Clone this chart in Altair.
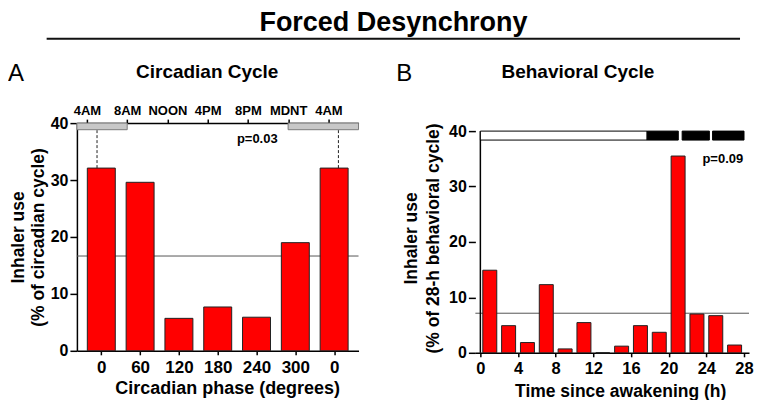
import altair as alt
import pandas as pd

FONT = "Liberation Sans"

main_title = "Forced Desynchrony"

# ---- Panel A : circadian cycle ----
a_letter = "A"
a_title = "Circadian Cycle"
phases = [0, 60, 120, 180, 240, 300, 360]
phase_labels = ["0", "60", "120", "180", "240", "300", "0"]
circ_values = [32.1, 29.6, 5.7, 7.7, 5.9, 19.0, 32.1]
circ_mean = 16.65
clock_hours = [4, 8, 12, 16, 20, 24, 28]
clock_labels = ["4AM", "8AM", "NOON", "4PM", "8PM", "MDNT", "4AM"]
sleep_start = [3, 24]
sleep_end = [8, 31]
a_p_text = "p=0.03"
a_p_pos = [239, 37.2]

# ---- Panel B : behavioral cycle ----
b_letter = "B"
b_title = "Behavioral Cycle"
hours_mid = [1, 3, 5, 7, 9, 11, 13, 15, 17, 19, 21, 23, 25, 27]
behav_values = [14.9, 4.9, 1.85, 12.3, 0.7, 5.45, 0.0, 1.2, 4.9, 3.7, 35.5, 7.0, 6.7, 1.4]
behav_mean = 7.14
hour_ticks = [0, 4, 8, 12, 16, 20, 24, 28]
seg_start = [0, 17.71, 21.43, 24.66]
seg_end = [17.71, 21.02, 24.32, 28]
seg_fill = ["white", "black", "black", "black"]
b_p_text = "p=0.09"
b_p_pos = [25.75, 35.0]

AW, AH = 282, 228
BW, BH = 274, 230
B_TOP = 40 * BH / 222.0


def lbl_expr(vals, labels):
    v = "[" + ",".join(str(x) for x in vals) + "]"
    l = "[" + ",".join("'" + s + "'" for s in labels) + "]"
    return f"{l}[indexof({v}, datum.value)]"


def txt(s, x, y, size, weight="bold", align="center"):
    return alt.Chart(pd.DataFrame({"t": [s]})).mark_text(
        font=FONT, fontSize=size, fontWeight=weight, align=align,
        baseline="alphabetic", color="black"
    ).encode(text="t:N", x=alt.value(x), y=alt.value(y))


# ----- Panel A layers -----
xa_scale = alt.Scale(domain=[-30, 390], nice=False, zero=False)
xclock_scale = alt.Scale(domain=[3, 31], nice=False, zero=False)
ya_scale = alt.Scale(domain=[0, 40], nice=False)
ya_axis = alt.Axis(values=[0, 10, 20, 30, 40], labelFontSize=16, tickSize=7, labelPadding=2,
                   title=["Inhaler use", "(% of circadian cycle)"], titleFontSize=17.5,
                   titleLineHeight=20, titlePadding=3)

df_a = pd.DataFrame({"phase": phases, "value": circ_values})
df_a["top"] = 38.84
df_dash = df_a[df_a["phase"].isin([0, 360])]
df_sleep = pd.DataFrame({"start": sleep_start, "end": sleep_end, "top": 40, "bottom": 38.84})
df_amean = pd.DataFrame({"m": [circ_mean]})
df_ap = pd.DataFrame({"x": [a_p_pos[0]], "y": [a_p_pos[1]], "t": [a_p_text]})

header_text = txt(main_title, 317, -92.5, 27)
header_rule = alt.Chart(pd.DataFrame({"t": [0]})).mark_rule(color="#111", strokeWidth=2).encode(
    x=alt.value(-30.3), x2=alt.value(664), y=alt.value(-84.5))
letter_a = txt(a_letter, -69, -42, 24, weight="normal", align="left")
title_a = txt(a_title, 130.5, -45, 19)

mean_a = alt.Chart(df_amean).mark_rule(color="#555", strokeWidth=1).encode(
    y=alt.Y("m:Q", scale=ya_scale, axis=ya_axis))

bars_a = alt.Chart(df_a).mark_bar(size=28, orient="vertical", color="#ff0000",
                                  stroke="#222", strokeWidth=1).encode(
    x=alt.X("phase:Q", scale=xa_scale,
            axis=alt.Axis(orient="bottom", values=phases, labelExpr=lbl_expr(phases, phase_labels),
                          tickSize=4, labelFontSize=17, labelPadding=5, labelFlush=False,
                          labelOverlap=False,
                          title="Circadian phase (degrees)", titleFontSize=18, titlePadding=4,
                          titleX=150.5)),
    y=alt.Y("value:Q", scale=ya_scale, axis=ya_axis))

dash_a = alt.Chart(df_dash).mark_rule(color="#222", strokeWidth=1, strokeDash=[3, 2]).encode(
    x=alt.X("phase:Q", scale=xa_scale, axis=None),
    y=alt.Y("value:Q", scale=ya_scale, axis=ya_axis), y2="top:Q")

sleep_a = alt.Chart(df_sleep).mark_rect(fill="#c8c8c8", stroke="#7a7a7a", strokeWidth=1).encode(
    x=alt.X("start:Q", scale=xclock_scale,
            axis=alt.Axis(orient="top", values=clock_hours, labelExpr=lbl_expr(clock_hours, clock_labels),
                          tickSize=4, labelFontSize=13, labelPadding=2, labelFlush=False,
                          labelOverlap=False, title=None)),
    x2="end:Q",
    y=alt.Y("top:Q", scale=ya_scale, axis=ya_axis), y2="bottom:Q")

p_a = alt.Chart(df_ap).mark_text(font=FONT, fontSize=13, fontWeight="bold", baseline="middle",
                                 color="black").encode(
    x=alt.X("x:Q", scale=xa_scale, axis=None),
    y=alt.Y("y:Q", scale=ya_scale, axis=ya_axis), text="t:N")

panel_a = alt.layer(header_text, header_rule, letter_a, title_a, mean_a, bars_a, dash_a,
                    sleep_a, p_a).resolve_scale(x="independent").properties(width=AW, height=AH)

# ----- Panel B layers -----
xb_scale = alt.Scale(domain=[0, 28], nice=False, zero=False)
yb_scale = alt.Scale(domain=[0, B_TOP], nice=False)
xb_axis = alt.Axis(values=hour_ticks, tickSize=4, labelFontSize=16.5, labelPadding=4,
                   labelFlush=False, labelOverlap=False,
                   title="Time since awakening (h)", titleFontSize=17.5, titlePadding=5,
                   titleX=145)
yb_axis = alt.Axis(values=[0, 10, 20, 30, 40], labelFontSize=16, tickSize=7, labelPadding=2,
                   domain=False,
                   title=["Inhaler use", "(% of 28-h behavioral cycle)"], titleFontSize=17.5,
                   titleLineHeight=22, titlePadding=6)

df_b = pd.DataFrame({"hour": hours_mid, "value": behav_values})
df_bmean = pd.DataFrame({"m": [behav_mean]})
df_seg = pd.DataFrame({"start": seg_start, "end": seg_end, "fill": seg_fill, "top": 40, "bottom": 38.38})
df_bp = pd.DataFrame({"x": [b_p_pos[0]], "y": [b_p_pos[1]], "t": [b_p_text]})
df_dom = pd.DataFrame({"x": [0], "y0": [0], "y1": [40]})

letter_b = txt(b_letter, -79.3, -42, 24, weight="normal", align="left")
title_b = txt(b_title, 102.7, -45, 19)

mean_b = alt.Chart(df_bmean).mark_rule(color="#555", strokeWidth=1).encode(
    y=alt.Y("m:Q", scale=yb_scale, axis=yb_axis))

bars_b = alt.Chart(df_b).mark_bar(size=14, orient="vertical", color="#ff0000",
                                  stroke="#222", strokeWidth=1).encode(
    x=alt.X("hour:Q", scale=xb_scale, axis=xb_axis),
    y=alt.Y("value:Q", scale=yb_scale, axis=yb_axis))

dom_b = alt.Chart(df_dom).mark_rule(color="black", strokeWidth=1.5).encode(
    x=alt.X("x:Q", scale=xb_scale, axis=xb_axis),
    y=alt.Y("y0:Q", scale=yb_scale, axis=yb_axis), y2="y1:Q")

seg_b = alt.Chart(df_seg).mark_rect(stroke="black", strokeWidth=1).encode(
    x=alt.X("start:Q", scale=xb_scale, axis=xb_axis), x2="end:Q",
    y=alt.Y("top:Q", scale=yb_scale, axis=yb_axis), y2="bottom:Q",
    fill=alt.Fill("fill:N", scale=None))

p_b = alt.Chart(df_bp).mark_text(font=FONT, fontSize=13, fontWeight="bold", baseline="middle",
                                 color="black").encode(
    x=alt.X("x:Q", scale=xb_scale, axis=xb_axis),
    y=alt.Y("y:Q", scale=yb_scale, axis=yb_axis), text="t:N")

panel_b = alt.layer(letter_b, title_b, mean_b, bars_b, dom_b, seg_b, p_b).properties(width=BW, height=BH)

chart = alt.hconcat(panel_a, panel_b, spacing=117, bounds="flush").properties(
    padding=0
).configure_view(stroke=None).configure_axis(
    labelFont=FONT, titleFont=FONT, labelFontWeight="bold", titleFontWeight="bold",
    labelColor="black", titleColor="black", domainColor="black", tickColor="black",
    domainWidth=1.5, tickWidth=1.5, grid=False
)

chart.save("out.html", embed_options={"renderer": "svg", "actions": False})
